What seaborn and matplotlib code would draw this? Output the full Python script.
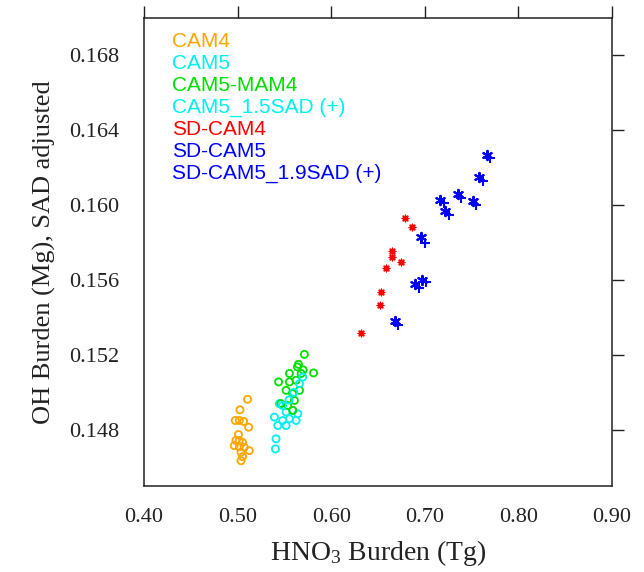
import matplotlib
matplotlib.use('Agg')
import matplotlib.pyplot as plt
import seaborn as sns
import pandas as pd

# ---------------- data ----------------
cam4_x = [0.5107, 0.5025, 0.4975, 0.5018, 0.5064, 0.5118, 0.5009, 0.4982, 0.5018,
          0.5053, 0.4964, 0.5018, 0.5071, 0.5125, 0.5036, 0.5053, 0.5036]
cam4_y = [0.14963, 0.14907, 0.14850, 0.14850, 0.14845, 0.14814, 0.14775, 0.14743, 0.14743,
          0.14733, 0.14716, 0.14710, 0.14707, 0.14689, 0.14680, 0.14657, 0.14635]

cam5_x = [0.5411, 0.5404, 0.5393, 0.5429, 0.5482, 0.5518, 0.5554, 0.5625, 0.5643,
          0.5446, 0.5518, 0.5589]
cam5_y = [0.14752, 0.14698, 0.14868, 0.14823, 0.14850, 0.14823, 0.14859, 0.14850, 0.14886,
          0.14940, 0.14895, 0.14904]

mam4_x = [0.5714, 0.5811, 0.5639, 0.5554, 0.5438, 0.5554, 0.5679, 0.5625, 0.5518,
          0.5661, 0.5589, 0.5464, 0.5536, 0.5607, 0.5589, 0.5700, 0.5650]
mam4_y = [0.15203, 0.15104, 0.15136, 0.15101, 0.15056, 0.15056, 0.15101, 0.15065, 0.15011,
          0.15011, 0.14993, 0.14940, 0.14930, 0.14957, 0.14904, 0.15120, 0.15150]

cam5sad_x = [0.5661, 0.5696, 0.5600, 0.5550, 0.5480]
cam5sad_y = [0.15047, 0.15082, 0.15000, 0.14960, 0.14930]

sdcam4_x = [0.6786, 0.6861, 0.6646, 0.6646, 0.6743, 0.6582, 0.6529, 0.6518, 0.6314]
sdcam4_y = [0.15929, 0.15886, 0.15757, 0.15725, 0.15698, 0.15665, 0.15537, 0.15467, 0.15317]

sdcam5_x = [0.766, 0.758, 0.751, 0.735, 0.722, 0.716, 0.696, 0.690, 0.697, 0.668]
sdcam5_y = [0.1627, 0.1615, 0.1602, 0.1606, 0.1597, 0.1603, 0.1583, 0.1558, 0.1560, 0.1538]

sdcam5sad_x = [0.770, 0.762, 0.755, 0.739, 0.726, 0.720, 0.700, 0.694, 0.701, 0.671]
sdcam5sad_y = [0.1625, 0.1613, 0.1600, 0.1604, 0.1595, 0.1601, 0.1580, 0.1556, 0.1559, 0.1536]

legend_labels = ["CAM4", "CAM5", "CAM5-MAM4", "CAM5_1.5SAD (+)", "SD-CAM4", "SD-CAM5",
                 "SD-CAM5_1.9SAD (+)"]
legend_colors = ["#FFA500", "#00F0F0", "#00E000", "#00F0F0", "#FF0000", "#0000FF", "#0000FF"]

x_ticks = [0.40, 0.50, 0.60, 0.70, 0.80, 0.90]
y_ticks = [0.148, 0.152, 0.156, 0.160, 0.164, 0.168]

# ---------------- style ----------------
sns.set_theme(style='white')
plt.rcParams['font.family'] = ['Liberation Serif', 'DejaVu Serif']
plt.rcParams['mathtext.fontset'] = 'custom'
plt.rcParams['mathtext.rm'] = 'Liberation Serif'
plt.rcParams['mathtext.it'] = 'Liberation Serif:italic'

fig = plt.figure(figsize=(6.44, 5.72), dpi=100)
ax = fig.add_axes([144 / 644, 1 - 486 / 572, 468 / 644, 468 / 572])

circ = dict(marker='o', s=26, linewidth=1.3, legend=False, ax=ax)
sns.scatterplot(x=cam4_x, y=cam4_y, facecolor='none', edgecolor=legend_colors[0], **circ)
sns.scatterplot(x=cam5_x, y=cam5_y, facecolor='none', edgecolor=legend_colors[1], **circ)
sns.scatterplot(x=mam4_x, y=mam4_y, facecolor='none', edgecolor=legend_colors[2], **circ)
sns.scatterplot(x=cam5sad_x, y=cam5sad_y, facecolor='none', edgecolor=legend_colors[3], **circ)

sns.scatterplot(x=sdcam4_x, y=sdcam4_y, marker=(8, 2, 0), s=22, linewidth=1.0,
                color=legend_colors[4], edgecolor=legend_colors[4], legend=False, ax=ax)
sns.scatterplot(x=sdcam5_x, y=sdcam5_y, marker=(6, 2, 0), s=45, linewidth=1.5,
                color=legend_colors[5], edgecolor=legend_colors[5], legend=False, ax=ax)
sns.scatterplot(x=sdcam5sad_x, y=sdcam5sad_y, marker='+', s=45, linewidth=1.5,
                color=legend_colors[6], edgecolor=legend_colors[6], legend=False, ax=ax)

ax.set_xlim(0.40, 0.90)
ax.set_ylim(0.145, 0.170)
ax.set_xticks(x_ticks)
ax.set_xticklabels([f"{v:.2f}" for v in x_ticks])
ax.set_yticks(y_ticks)
ax.set_yticklabels([f"{v:.3f}" for v in y_ticks])

for sp in ax.spines.values():
    sp.set_visible(True)
    sp.set_color('#222222')
    sp.set_linewidth(1.1)

ax.tick_params(axis='both', which='both', direction='out', length=8.6, width=1.0,
               color='#222222', top=True, right=True, labelsize=16, labelcolor='#222222')
ax.tick_params(axis='y', pad=9)
ax.tick_params(axis='x', pad=7)

ax.set_xlabel(r"HNO$_3$ Burden (Tg)", fontsize=20, color='#222222', labelpad=8)
ax.set_ylabel("OH Burden (Mg), SAD adjusted", fontsize=19, color='#222222', labelpad=10)

for i, (lab, col) in enumerate(zip(legend_labels, legend_colors)):
    ax.text(0.0598, 0.9387 - 0.04701 * i, lab, transform=ax.transAxes, color=col,
            fontsize=15, family=['Liberation Sans', 'DejaVu Sans'], va='baseline', ha='left')

fig.savefig('out.png', dpi=100)
